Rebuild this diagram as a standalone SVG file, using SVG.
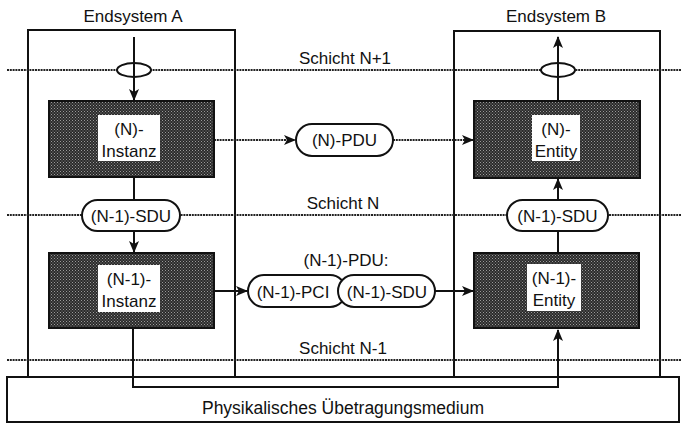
<svg xmlns="http://www.w3.org/2000/svg" width="681" height="425" viewBox="0 0 681 425">
<defs>
<pattern id="dots" width="3" height="3" patternUnits="userSpaceOnUse">
<rect width="3" height="3" fill="#2b2b2b"/>
<rect x="0" y="0" width="1" height="1" fill="#9a9a9a"/>
<rect x="1.5" y="1.5" width="1" height="1" fill="#8a8a8a"/>
</pattern>
<marker id="arr" viewBox="0 0 12 10" refX="11" refY="5" markerWidth="12" markerHeight="10" markerUnits="userSpaceOnUse" orient="auto">
<path d="M0,0 L12,5 L0,10 L3,5 Z" fill="#111"/>
</marker>
</defs>
<style>
text{font-family:"Liberation Sans",Arial,sans-serif;fill:#111;}
.lbl{font-size:17px;}
.node{font-size:17px;text-anchor:middle;}
.layer{stroke:#222;stroke-width:2.2;stroke-dasharray:2 0.8;fill:none;}
.frame{stroke:#111;stroke-width:2;fill:none;}
.box{fill:url(#dots);stroke:#111;stroke-width:2;}
.inner{fill:#fff;stroke:none;}
.pill{fill:#fff;stroke:#111;stroke-width:2;}
.con{stroke:#111;stroke-width:2;fill:none;}
.dcon{stroke:#222;stroke-width:2;stroke-dasharray:2 0.8;fill:none;}
</style>
<rect width="681" height="425" fill="#fff"/>

<g id="frames">
<line class="frame" x1="28" y1="30" x2="28" y2="377"/>
<line class="frame" x1="235" y1="30" x2="235" y2="377"/>
<line class="frame" x1="27" y1="30" x2="236" y2="30"/>
<line class="frame" x1="454" y1="31" x2="454" y2="377"/>
<line class="frame" x1="660" y1="31" x2="660" y2="377"/>
<line class="frame" x1="453" y1="31" x2="661" y2="31"/>
<text class="lbl" x="133" y="22" text-anchor="middle">Endsystem A</text>
<text class="lbl" x="556" y="22" text-anchor="middle">Endsystem B</text>
</g>

<g id="layers">
<line class="layer" x1="7" y1="70" x2="681" y2="70"/>
<line class="layer" x1="7" y1="215" x2="681" y2="215"/>
<line class="layer" x1="7" y1="360" x2="681" y2="360"/>
<text class="lbl" x="345" y="64" text-anchor="middle">Schicht N+1</text>
<text class="lbl" x="343" y="209" text-anchor="middle">Schicht N</text>
<text class="lbl" x="343" y="354" text-anchor="middle">Schicht N-1</text>
<text class="lbl" x="346" y="266" text-anchor="middle">(N-1)-PDU:</text>
</g>

<g id="medium">
<rect x="7" y="377" width="672" height="45" fill="#fff" stroke="#111" stroke-width="2"/>
<text x="343" y="414" text-anchor="middle" font-size="17.5">Physikalisches Übetragungsmedium</text>
</g>

<g id="connectors">
<ellipse cx="134" cy="70" rx="17" ry="7" fill="#fff" stroke="#111" stroke-width="2"/>
<ellipse cx="558" cy="70" rx="17" ry="7" fill="#fff" stroke="#111" stroke-width="2"/>
<line class="con" x1="134" y1="37" x2="134" y2="100" marker-end="url(#arr)"/>
<line class="con" x1="558" y1="101" x2="558" y2="37" marker-end="url(#arr)"/>
<line class="dcon" x1="214" y1="140" x2="295" y2="140" marker-end="url(#arr)"/>
<line class="dcon" x1="393" y1="140" x2="473" y2="140" marker-end="url(#arr)"/>
<line class="con" x1="134" y1="177" x2="134" y2="200"/>
<line class="con" x1="134" y1="231" x2="134" y2="252" marker-end="url(#arr)"/>
<line class="con" x1="558" y1="253" x2="558" y2="231"/>
<line class="con" x1="558" y1="200" x2="558" y2="179" marker-end="url(#arr)"/>
<line class="con" x1="214" y1="291" x2="247" y2="291" marker-end="url(#arr)"/>
<line class="con" x1="435" y1="291" x2="473" y2="291" marker-end="url(#arr)"/>
<path class="con" d="M133,328 V387 H558 V330" marker-end="url(#arr)"/>
</g>

<g id="n-instanz">
<rect class="box" x="49" y="101" width="165" height="76"/>
<rect class="inner" x="98" y="115" width="62" height="46"/>
<text class="node" x="129" y="135">(N)-</text>
<text class="node" x="129" y="157">Instanz</text>
</g>

<g id="n-entity">
<rect class="box" x="474" y="101" width="166" height="77"/>
<rect class="inner" x="532" y="115" width="48" height="46"/>
<text class="node" x="556" y="135">(N)-</text>
<text class="node" x="556" y="157">Entity</text>
</g>

<g id="n1-instanz">
<rect class="box" x="49" y="253" width="165" height="75"/>
<rect class="inner" x="98" y="265" width="62" height="47"/>
<text class="node" x="129" y="285">(N-1)-</text>
<text class="node" x="129" y="307">Instanz</text>
</g>

<g id="n1-entity">
<rect class="box" x="474" y="253" width="165" height="75"/>
<rect class="inner" x="527" y="264" width="54" height="47"/>
<text class="node" x="554" y="284">(N-1)-</text>
<text class="node" x="554" y="306">Entity</text>
</g>

<g id="n-pdu">
<rect class="pill" x="296" y="124" width="97" height="32" rx="16"/>
<text class="node" x="344.5" y="146">(N)-PDU</text>
</g>

<g id="sdu-a">
<rect class="pill" x="82" y="200" width="98" height="31" rx="15.5"/>
<text class="node" x="131" y="221.5">(N-1)-SDU</text>
</g>

<g id="sdu-b">
<rect class="pill" x="507" y="200" width="101" height="31" rx="15.5"/>
<text class="node" x="557.5" y="221.5">(N-1)-SDU</text>
</g>

<g id="pci">
<rect class="pill" x="248" y="275" width="98" height="32" rx="16"/>
<text class="node" x="293" y="297.5">(N-1)-PCI</text>
</g>

<g id="sdu-pdu">
<rect class="pill" x="338" y="275" width="97" height="32" rx="16"/>
<text class="node" x="387" y="297.5">(N-1)-SDU</text>
</g>
</svg>
